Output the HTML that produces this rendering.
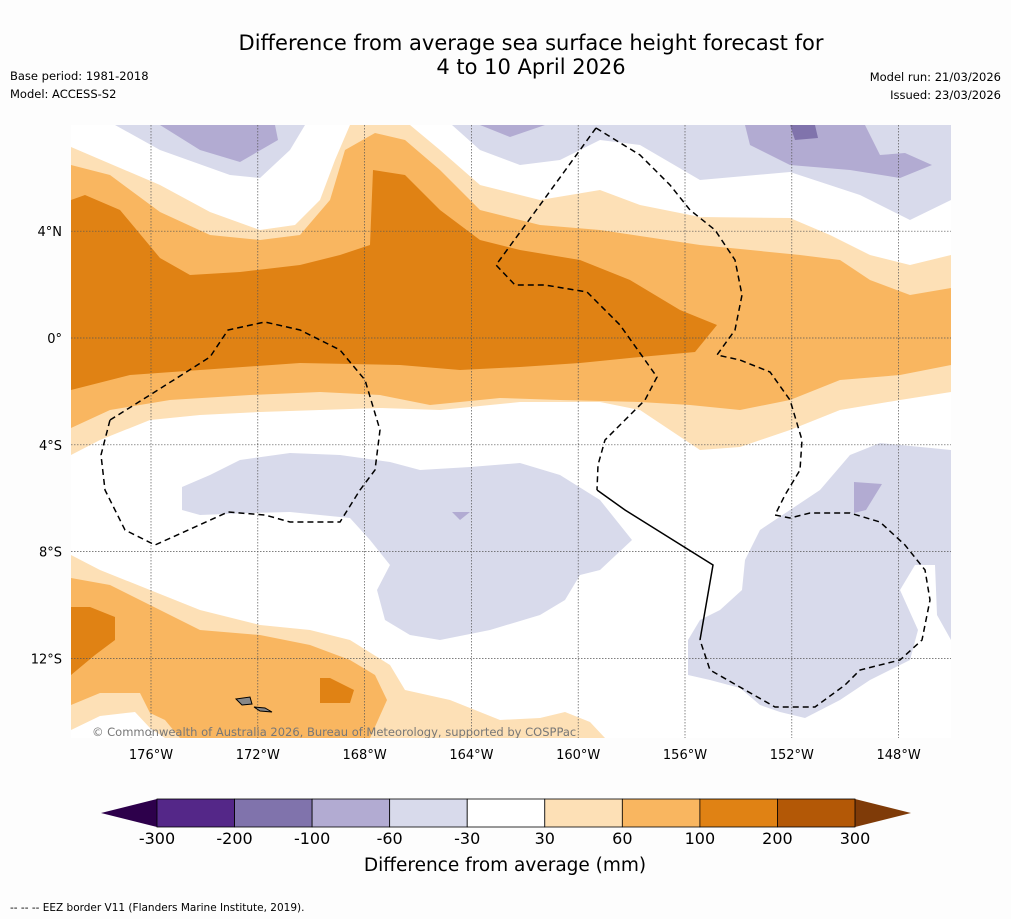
<!DOCTYPE html>
<html><head><meta charset="utf-8"><style>
body{margin:0;background:#fff;width:1011px;height:919px;overflow:hidden;font-family:"DejaVu Sans","Liberation Sans",sans-serif}
svg{display:block}
</style></head><body>
<svg id="root" width="1011" height="919" xmlns="http://www.w3.org/2000/svg" font-family="DejaVu Sans, Liberation Sans, sans-serif">
<rect width="1011" height="919" fill="#fdfdfd"/>
<text x="531" y="50" font-size="21" text-anchor="middle">Difference from average sea surface height forecast for</text>
<text x="531" y="74" font-size="21" text-anchor="middle">4 to 10 April 2026</text>
<text x="10" y="80" font-size="11.5">Base period: 1981-2018</text>
<text x="10" y="98" font-size="11.5">Model: ACCESS-S2</text>
<text x="1001" y="81" font-size="11.5" text-anchor="end">Model run: 21/03/2026</text>
<text x="1001" y="99" font-size="11.5" text-anchor="end">Issued: 23/03/2026</text>
<defs><clipPath id="mc"><rect x="71" y="125" width="880" height="613"/></clipPath></defs>
<g clip-path="url(#mc)">
<rect x="71" y="125" width="880" height="613" fill="#fff"/>
<g stroke="none">
<path fill="#fde0b6" d="M71,147 L160,185 L210,212 L260,230 L295,225 L320,200 L335,160 L350,125 L410,125 L440,150 L480,185 L540,200 L600,190 L640,205 L700,217 L790,218 L830,235 L870,255 L910,265 L951,255 L951,392 L900,400 L840,410 L790,430 L740,447 L700,450 L640,410 L600,402 L520,402 L440,410 L380,408 L320,410 L260,412 L200,415 L150,420 L100,440 L71,455 Z"/>
<path fill="#f9b660" d="M71,165 L110,175 L160,212 L210,235 L260,240 L300,235 L330,200 L345,150 L375,133 L405,140 L440,170 L480,210 L540,225 L600,230 L700,245 L800,255 L840,260 L870,280 L910,295 L951,288 L951,365 L900,375 L840,380 L790,400 L740,410 L690,405 L640,402 L560,400 L500,398 L430,405 L380,395 L320,392 L250,395 L170,400 L110,410 L71,428 Z"/>
<path fill="#e08214" d="M71,200 L85,195 L120,210 L160,258 L190,275 L240,272 L300,265 L340,255 L370,245 L373,170 L405,175 L440,210 L480,240 L520,250 L580,260 L630,280 L680,310 L717,325 L695,352 L640,357 L580,363 L520,367 L460,370 L400,365 L300,363 L200,370 L130,375 L71,390 Z"/>
<path fill="#d8daeb" d="M115,125 L160,150 L230,175 L260,178 L290,150 L305,125 Z"/>
<path fill="#b2abd2" d="M160,125 L200,150 L240,162 L278,140 L275,125 Z"/>
<path fill="#d8daeb" d="M452,125 L480,150 L520,165 L560,160 L600,140 L640,145 L700,180 L790,172 L860,195 L910,220 L951,200 L951,125 Z"/>
<path fill="#b2abd2" d="M480,125 L510,137 L545,125 Z M745,125 L750,145 L790,165 L850,170 L900,178 L932,165 L905,153 L880,155 L865,125 Z"/>
<path fill="#8073ac" d="M790,125 L795,140 L818,138 L815,125 Z"/>
<path fill="#d8daeb" d="M182,487 L210,475 L240,460 L290,453 L340,455 L390,462 L420,470 L470,467 L520,463 L560,475 L600,500 L632,540 L600,570 L580,575 L565,600 L540,615 L490,630 L440,640 L410,635 L385,620 L377,590 L390,565 L370,540 L350,518 L320,515 L290,512 L250,513 L200,515 L182,510 Z"/>
<path fill="#b2abd2" d="M452,512 L470,512 L460,520 Z"/>
<path fill="#d8daeb" d="M688,640 L700,620 L720,610 L742,590 L745,560 L760,530 L790,510 L820,490 L850,455 L880,443 L951,450 L951,640 L937,615 L935,565 L915,565 L900,590 L918,630 L910,660 L870,680 L840,700 L805,718 L780,712 L760,705 L740,688 L710,680 L688,675 Z"/>
<path fill="#b2abd2" d="M854,482 L882,484 L866,510 L854,513 Z"/>
<path fill="#fde0b6" d="M71,555 L100,570 L150,590 L200,610 L260,625 L310,630 L350,640 L390,665 L405,690 L450,700 L500,720 L540,718 L565,712 L590,722 L605,738 L71,738 Z"/>
<path fill="#f9b660" d="M71,578 L110,585 L150,605 L200,630 L260,635 L310,645 L350,660 L375,675 L387,700 L370,738 L180,738 L165,720 L150,713 L140,693 L100,693 L71,705 Z"/>
<path fill="#ffffff" d="M71,730 L100,716 L135,712 L150,728 L165,738 L71,738 Z"/>
<path fill="#e08214" d="M71,607 L90,607 L115,617 L115,640 L95,655 L71,675 Z M320,678 L330,678 L354,690 L350,703 L320,703 Z"/>
</g>
<g id="grid" stroke="#555" stroke-width="0.7" stroke-dasharray="1.5,1.5" fill="none"></g>
<g fill="none" stroke="#000" stroke-width="1.5" stroke-dasharray="6,4">
<path d="M110,420 L150,395 L210,357 L228,330 L265,322 L300,330 L340,350 L365,380 L380,430 L375,470 L360,490 L340,522 L290,522 L265,515 L228,512 L155,545 L125,530 L105,490 L101,455 Z"/>
<path d="M596,128 L640,155 L670,185 L690,210 L715,230 L735,260 L742,295 L735,330 L717,355 L740,360 L770,372 L790,400 L802,440 L800,470 L785,495 L775,515 L790,518 L810,513 L850,513 L880,522 L905,545 L925,570 L930,600 L922,640 L900,660 L860,670 L845,685 L815,707 L775,707 L710,670 L700,640"/>
<path d="M596,128 L540,205 L496,265 L515,285 L545,285 L587,292 L620,325 L657,377 L645,400 L625,420 L605,440 L598,465 L597,490"/>
<path stroke-dasharray="none" d="M597,490 L625,510 L713,565 L700,640"/>
</g>
<g fill="#888" stroke="#000" stroke-width="1">
<path d="M236,699 L250,697 L252,704 L242,705 Z"/><path d="M254,707 L265,708 L272,712 L260,711 Z"/>
</g>
<text x="92" y="736" font-size="11.5" fill="#777">© Commonwealth of Australia 2026, Bureau of Meteorology, supported by COSPPac</text>
</g>
<g id="axes" font-size="13"></g>
<g id="cbar"></g>
<text x="505" y="871" font-size="18.5" text-anchor="middle">Difference from average (mm)</text>
<text x="10" y="911" font-size="10.5">--  --  -- EEZ border V11 (Flanders Marine Institute, 2019).</text>
</svg>
<script>
const lonLabels=["176°W","172°W","168°W","164°W","160°W","156°W","152°W","148°W"];
const lonValues=[-176,-172,-168,-164,-160,-156,-152,-148];
const latLabels=["4°N","0°","4°S","8°S","12°S"];
const latValues=[4,0,-4,-8,-12];
const cbLevels=[-300,-200,-100,-60,-30,30,60,100,200,300];
const cbColors=["#542788","#8073ac","#b2abd2","#d8daeb","#ffffff","#fde0b6","#f9b660","#e08214","#b35806"];
const NS="http://www.w3.org/2000/svg";
const xLon=v=>151+(v+176)*26.7;
const yLat=v=>338-v*26.7;
function mk(t,a,p){const e=document.createElementNS(NS,t);for(const k in a)e.setAttribute(k,a[k]);p.appendChild(e);return e;}
const grid=document.getElementById('grid'),axes=document.getElementById('axes'),cb=document.getElementById('cbar');
lonValues.forEach((v,i)=>{
 const l=mk('line',{x1:xLon(v),x2:xLon(v),y1:125,y2:738},grid);
 
 
 const t=mk('text',{x:xLon(v),y:759,'text-anchor':'middle'},axes);t.textContent=lonLabels[i];
 
 
});
latValues.forEach((v,i)=>{
 const l=mk('line',{x1:71,x2:951,y1:yLat(v),y2:yLat(v)},grid);
 
 
 const t=mk('text',{x:62,y:yLat(v)+5,'text-anchor':'end'},axes);t.textContent=latLabels[i];
 
 
});
const cx0=157,cx1=855,cy=799,ch=28,step=(cx1-cx0)/(cbLevels.length-1);
const lt=mk('path',{d:`M${cx0},${cy} L101,${cy+ch/2} L${cx0},${cy+ch} Z`,fill:"#2d004b"},cb);


const rt=mk('path',{d:`M${cx1},${cy} L911,${cy+ch/2} L${cx1},${cy+ch} Z`,fill:"#7f3b08"},cb);


cbColors.forEach((c,i)=>{
 const r=mk('rect',{x:cx0+i*step,y:cy,width:step,height:ch,fill:c,stroke:"#000","stroke-width":0.8},cb);
 
 
});
cbLevels.forEach((v,i)=>{
 const t=mk('text',{x:cx0+i*step,y:844,'text-anchor':'middle','font-size':16},cb);t.textContent=v;
 
 
});
</script>
</body></html>
